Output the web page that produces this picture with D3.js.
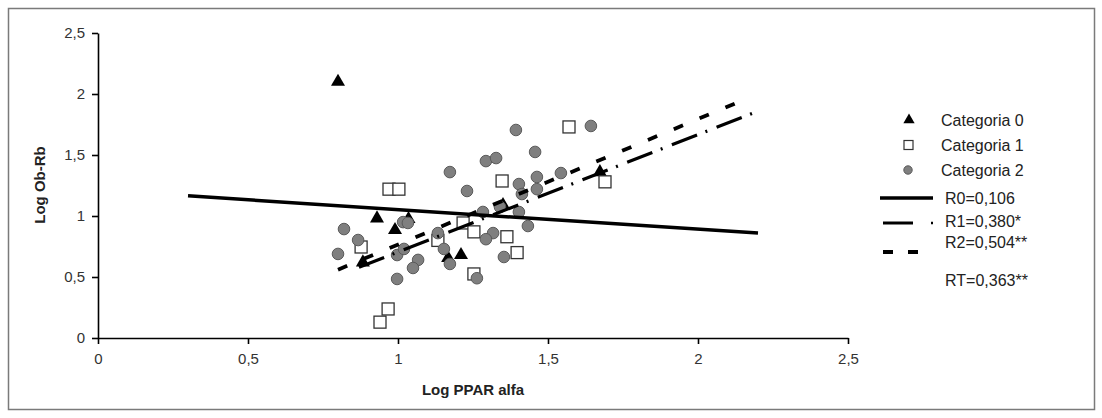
<!DOCTYPE html>
<html>
<head>
<meta charset="utf-8">
<script src="https://cdn.jsdelivr.net/npm/d3@7/dist/d3.min.js"></script>
<style>
  body { margin: 0; background: #fff; }
  svg { display: block; font-family: "Liberation Sans", Arial, sans-serif; }
</style>
</head>
<body>
<div id="chart"></div>
<script>
// values: [Log PPAR alfa, Log Ob-Rb]
var categoria0 = [[0.80, 2.10], [0.93, 0.98], [0.99, 0.885], [0.883, 0.62], [1.21, 0.68],
  [1.035, 0.975], [1.167, 0.656], [1.35, 1.09], [1.673, 1.36]];
var categoria1 = [[0.97, 1.22], [1.003, 1.22], [0.877, 0.746], [0.967, 0.238], [0.94, 0.13],
  [1.133, 0.80], [1.217, 0.943], [1.253, 0.87], [1.363, 0.83], [1.397, 0.70], [1.253, 0.525],
  [1.347, 1.287], [1.57, 1.73], [1.69, 1.28]];
var categoria2 = [[1.173, 1.36], [1.23, 1.205], [1.393, 1.705], [1.643, 1.738], [1.457, 1.525],
  [1.293, 1.45], [1.327, 1.475], [1.403, 1.262], [1.463, 1.32], [1.543, 1.352], [1.463, 1.22],
  [1.413, 1.18], [1.403, 1.033], [1.283, 1.033], [1.433, 0.918], [1.317, 0.86], [1.293, 0.81],
  [1.353, 0.664], [1.263, 0.49], [0.82, 0.893], [0.867, 0.803], [0.80, 0.689], [1.017, 0.95],
  [1.033, 0.943], [1.133, 0.86], [1.153, 0.73], [1.173, 0.607], [0.997, 0.68], [1.02, 0.73],
  [1.067, 0.64], [1.05, 0.574], [0.997, 0.484], [1.34, 1.074]];

// trend lines (start / end)
var r0Line = [[0.3, 1.165], [2.2, 0.86]];
var r1Line = [[0.87, 0.58], [2.2, 1.86]];
var r2Line = [[0.8, 0.56], [2.17, 1.97]];

var xTicks = [0, 0.5, 1, 1.5, 2, 2.5];
var yTicks = [0, 0.5, 1, 1.5, 2, 2.5];
var categoryLabels = ["Categoria 0", "Categoria 1", "Categoria 2"];
var lineLabels = ["R0=0,106", "R1=0,380*", "R2=0,504**"];
var totalLabel = "RT=0,363**";

var svgWidth = 1102;
var svgHeight = 418;

var svg = d3.select("#chart")
  .append("svg")
  .attr("width", svgWidth)
  .attr("height", svgHeight);

// outer frame
svg.append("rect")
  .attr("x", 8.5).attr("y", 8.5)
  .attr("width", 1086).attr("height", 401)
  .attr("fill", "none")
  .attr("stroke", "#7a7a7a")
  .attr("stroke-width", 1.5);

var xScale = d3.scaleLinear().domain([0, 2.5]).range([98, 848]);
var yScale = d3.scaleLinear().domain([0, 2.5]).range([338, 33]);
var comma = d => String(d).replace(".", ",");

// axes
var xAxis = svg.append("g")
  .attr("transform", "translate(0,338)")
  .call(d3.axisBottom(xScale).tickValues(xTicks).tickFormat(comma).tickSizeInner(6).tickSizeOuter(0).tickPadding(9));
var yAxis = svg.append("g")
  .attr("transform", "translate(98,0)")
  .call(d3.axisLeft(yScale).tickValues(yTicks).tickFormat(comma).tickSizeInner(6).tickSizeOuter(0).tickPadding(7));

svg.selectAll(".domain, .tick line").attr("stroke", "#000").attr("stroke-width", 1.6);
svg.selectAll(".tick text")
  .attr("fill", "#333")
  .style("font-size", "15px")
  .style("font-family", "'Liberation Sans', Arial, sans-serif");

svg.append("text")
  .attr("x", 473).attr("y", 395)
  .attr("text-anchor", "middle")
  .style("font-size", "15px").style("font-weight", "bold")
  .attr("fill", "#222")
  .text("Log PPAR alfa");

svg.append("text")
  .attr("transform", "translate(45,185) rotate(-90)")
  .attr("text-anchor", "middle")
  .style("font-size", "15px").style("font-weight", "bold")
  .attr("fill", "#222")
  .text("Log Ob-Rb");

// points
var triangle = d3.symbol().type(d3.symbolTriangle).size(85);

svg.append("g").selectAll("path")
  .data(categoria0)
  .enter()
  .append("path")
  .attr("d", triangle)
  .attr("transform", d => `translate(${xScale(d[0])},${yScale(d[1])})`)
  .attr("fill", "#000");

svg.append("g").selectAll("rect")
  .data(categoria1)
  .enter()
  .append("rect")
  .attr("x", d => xScale(d[0]) - 6)
  .attr("y", d => yScale(d[1]) - 6)
  .attr("width", 12).attr("height", 12)
  .attr("fill", "#fff")
  .attr("stroke", "#333")
  .attr("stroke-width", 1.3);

svg.append("g").selectAll("circle")
  .data(categoria2)
  .enter()
  .append("circle")
  .attr("cx", d => xScale(d[0]))
  .attr("cy", d => yScale(d[1]))
  .attr("r", 5.8)
  .attr("fill", "#7f7f7f")
  .attr("stroke", "#5a5a5a")
  .attr("stroke-width", 1);

// trend lines
var line = d3.line().x(d => xScale(d[0])).y(d => yScale(d[1]));
var lineStyles = [
  { data: r0Line, dash: null, width: 3.5 },
  { data: r1Line, dash: "27,9,2,10", width: 3.2 },
  { data: r2Line, dash: "10,18", width: 3.8 }
];
svg.append("g").selectAll("path")
  .data(lineStyles)
  .enter()
  .append("path")
  .attr("d", d => line(d.data))
  .attr("fill", "none")
  .attr("stroke", "#000")
  .attr("stroke-width", d => d.width)
  .attr("stroke-dasharray", d => d.dash);

// legend
var legend = svg.append("g").style("font-size", "16px").attr("fill", "#222");
var legendY = [120, 145, 170];

legend.append("path").attr("d", d3.symbol().type(d3.symbolTriangle).size(55))
  .attr("transform", `translate(909,${legendY[0]})`).attr("fill", "#000");
legend.append("rect").attr("x", 904).attr("y", legendY[1] - 4.5).attr("width", 9).attr("height", 9)
  .attr("fill", "#fff").attr("stroke", "#333").attr("stroke-width", 1.2);
legend.append("circle").attr("cx", 908).attr("cy", legendY[2]).attr("r", 4.2)
  .attr("fill", "#7f7f7f").attr("stroke", "#5a5a5a");

legend.selectAll("text.cat")
  .data(categoryLabels)
  .enter()
  .append("text")
  .attr("class", "cat")
  .attr("x", 941)
  .attr("y", (d, i) => legendY[i] + 6)
  .text(d => d);

var lineY = [198, 221, 242];
legend.append("line").attr("x1", 880).attr("x2", 933).attr("y1", lineY[0]).attr("y2", lineY[0])
  .attr("stroke", "#000").attr("stroke-width", 3.5);
legend.append("line").attr("x1", 883).attr("x2", 913).attr("y1", 223).attr("y2", 223)
  .attr("stroke", "#000").attr("stroke-width", 3);
legend.append("line").attr("x1", 931).attr("x2", 933).attr("y1", 223).attr("y2", 223)
  .attr("stroke", "#000").attr("stroke-width", 2.5);
legend.append("line").attr("x1", 883).attr("x2", 918).attr("y1", 252).attr("y2", 252)
  .attr("stroke", "#000").attr("stroke-width", 4).attr("stroke-dasharray", "10,15");

legend.selectAll("text.rl")
  .data(lineLabels)
  .enter()
  .append("text")
  .attr("class", "rl")
  .attr("x", 945)
  .attr("y", (d, i) => lineY[i] + 6)
  .text(d => d);

legend.append("text")
  .attr("x", 945).attr("y", 286)
  .text(totalLabel);
</script>
</body>
</html>
